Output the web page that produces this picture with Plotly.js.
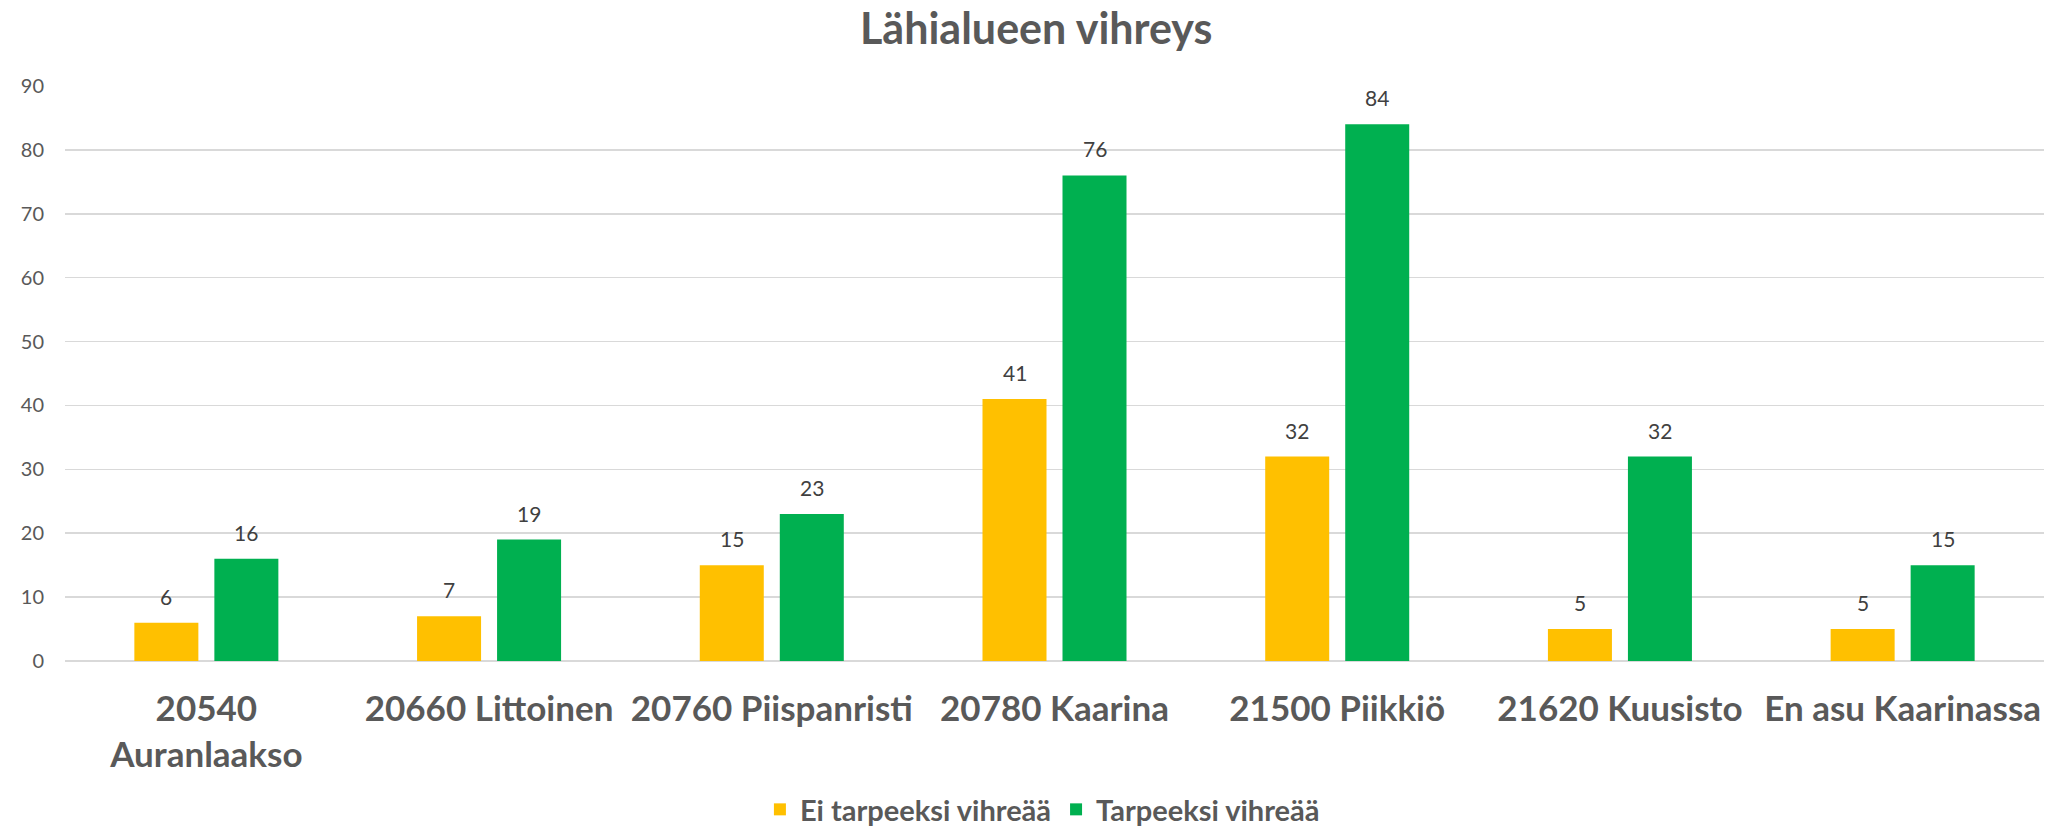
<!DOCTYPE html>
<html>
<head>
<meta charset="utf-8">
<script src="https://cdn.plot.ly/plotly-3.0.1.min.js"></script>
<style>
html,body{margin:0;padding:0;background:#fff;}
#chart{width:2052px;height:835px;}
</style>
</head>
<body>
<div id="chart"></div>
<script>
const categories = ["20540<br>Auranlaakso", "20660 Littoinen", "20760 Piispanristi", "20780 Kaarina", "21500 Piikkiö", "21620 Kuusisto", "En asu Kaarinassa"];
const seriesNames = ["Ei tarpeeksi vihreää", "Tarpeeksi vihreää"];
const eiTarpeeksi = [6, 7, 15, 41, 32, 5, 5];
const tarpeeksi = [16, 19, 23, 76, 84, 32, 15];
const yTicks = [0, 10, 20, 30, 40, 50, 60, 70, 80, 90];

const FONT = "Lato, 'Open Sans', sans-serif";
const colors = ["#FFC000", "#00B050"];

const traces = [
  {type: "bar", name: seriesNames[0], x: categories, y: eiTarpeeksi, marker: {color: colors[0]}, hoverinfo: "skip"},
  {type: "bar", name: seriesNames[1], x: categories, y: tarpeeksi, marker: {color: colors[1]}, hoverinfo: "skip"}
];

const annotations = [];
[eiTarpeeksi, tarpeeksi].forEach((vals, si) => {
  vals.forEach((v, i) => {
    annotations.push({
      x: categories[i], y: v, xref: "x", yref: "y",
      text: String(v), showarrow: false,
      xanchor: "center", yanchor: "bottom",
      xshift: si === 0 ? -40 : 40, yshift: 12,
      font: {family: FONT, size: 21, color: "#404040"}
    });
  });
});

const layout = {
  width: 2052, height: 835,
  paper_bgcolor: "#fff", plot_bgcolor: "#fff",
  margin: {l: 65, r: 8, t: 86, b: 174},
  title: {
    text: "Lähialueen vihreys",
    font: {family: FONT, size: 43, color: "#595959", weight: "bold"},
    x: 0.505, xref: "container", xanchor: "center",
    y: 0.965, yref: "container", yanchor: "middle"
  },
  barmode: "group",
  bargap: 0.434,
  bargroupgap: 0.2,
  xaxis: {
    type: "category",
    tickfont: {family: FONT, size: 35, color: "#595959", weight: "bold"},
    ticklabelstandoff: 24,
    showgrid: false, zeroline: false, showline: false, ticks: ""
  },
  yaxis: {
    range: [0, 90],
    tickvals: yTicks,
    ticktext: yTicks.map(String),
    tickfont: {family: FONT, size: 20, color: "#595959"},
    ticklabelstandoff: 20,
    showgrid: true, gridcolor: "#d9d9d9", gridwidth: 1.5,
    zeroline: true, zerolinecolor: "#d9d9d9", zerolinewidth: 1.5,
    showline: false, ticks: ""
  },
  showlegend: true,
  legend: {
    orientation: "h",
    xref: "container", yref: "container",
    x: 0.508, xanchor: "center",
    y: 0.0, yanchor: "bottom",
    font: {family: FONT, size: 29, color: "#595959", weight: "bold"},
    itemclick: false, itemdoubleclick: false
  },
  annotations: annotations
};

Plotly.newPlot("chart", traces, layout, {displayModeBar: false, staticPlot: true});
</script>
</body>
</html>
